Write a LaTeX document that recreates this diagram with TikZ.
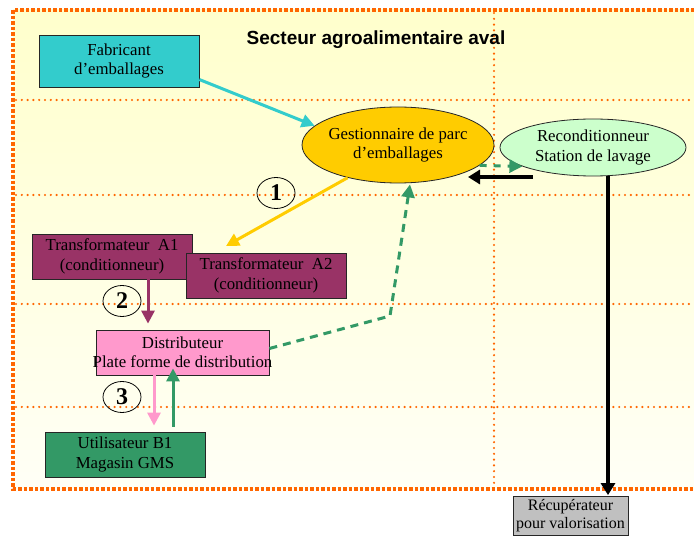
\documentclass[tikz,border=0pt]{standalone}
\usepackage{fontspec}
\setmainfont{Liberation Serif}
\newfontfamily\titlefont{Liberation Sans}
\usetikzlibrary{shapes.geometric,arrows.meta,calc}
\definecolor{frameor}{HTML}{FF6600}
\definecolor{cfab}{HTML}{33CCCC}
\definecolor{cgest}{HTML}{FFCC00}
\definecolor{crecon}{HTML}{CCFFCC}
\definecolor{ctrans}{HTML}{993366}
\definecolor{cdist}{HTML}{FF99CC}
\definecolor{cutil}{HTML}{339966}
\definecolor{crecup}{HTML}{C0C0C0}
\definecolor{bgtop}{HTML}{FFFFCC}
\definecolor{bgbot}{HTML}{FFFFF6}
\begin{document}
\begin{tikzpicture}[x=1pt,y=-1pt,
  font=\fontsize{16.8}{19.5}\selectfont,
  box/.style={draw=black!85, line width=0.8pt, inner sep=0pt, align=center, minimum width=160pt, minimum height=45pt},
  oval/.style={ellipse, draw=black!85, line width=0.8pt, inner sep=0pt, align=center},
  num/.style={ellipse, draw=black, line width=0.8pt, inner sep=0pt, minimum width=38pt, minimum height=31pt, font=\fontsize{24}{24}\selectfont\bfseries},
  grid/.style={frameor, line width=2.4pt, dash pattern=on 0pt off 5.8pt, line cap=round},
  tip/.style={-{Triangle[length=13pt,width=13pt]}},
  carrow/.style={tip, line width=3pt},
  barrow/.style={-{Triangle[length=12pt,width=14pt]}, line width=4.5pt, black},
]
\useasboundingbox (0,0) rectangle (694,537);
% background
\shade[top color=bgtop, bottom color=bgbot] (13,10) rectangle (694,489);
% grid
\foreach \yy in {100,195,304,407} \draw[grid] (16,\yy) -- (694,\yy);
\draw[grid] (494,13) -- (494,486);
% frame
\draw[frameor, line width=3.5pt, dash pattern=on 3.5pt off 2pt] (700,10) -- (13,10) -- (13,489) -- (700,489);

% title
\node (title) at (376,40) {\titlefont\bfseries\fontsize{19}{22}\selectfont Secteur agroalimentaire aval};

% nodes
\node[box, fill=cfab, minimum height=52pt] (fab) at (119,61) {Fabricant\\d’emballages};
\node[oval, fill=cgest, minimum width=192pt, minimum height=76pt] (gest) at (398,145) {\makebox[130pt]{Gestionnaire de parc}\\d’emballages};
\node[oval, fill=crecon, minimum width=186pt, minimum height=57pt] (recon) at (593,147.5) {Reconditionneur\\Station de lavage};
\node[box, fill=ctrans] (a1) at (112,256.5) {Transformateur\ \ A1\\(conditionneur)};
\node[box, fill=ctrans] (a2) at (266,275.5) {Transformateur\ \ A2\\(conditionneur)};
\node[box, fill=cdist, minimum width=173pt] (dist) at (182.5,352.5) {Distributeur\\\makebox[150pt]{Plate forme de distribution}};
\node[box, fill=cutil] (util) at (125,454.5) {Utilisateur B1\\Magasin GMS};
\node[box, fill=crecup, minimum width=115pt, minimum height=39pt, font=\fontsize{16}{18}\selectfont] (recup) at (570.5,516) {Récupérateur\\\makebox[100pt]{pour valorisation}};

% numbers
\node[num] (n1) at (276,193) {1};
\node[num] (n2) at (122,301) {2};
\node[num] (n3) at (122,397) {3};

% free ends
\coordinate (yend) at (226,246);
\coordinate (bkstart) at (533,177);
\coordinate (bkend) at (468,177);
\coordinate (bend) at (390,316);

% connectors
\draw[carrow, cfab] (fab.-13) -- (gest.167);
\draw[carrow, cgest] (gest.213) -- (yend);
\draw[carrow, ctrans] ($(a1.south)+(36,0)$) -- ($(dist.north)+(-34.5,-6)$);
\draw[carrow, cdist] ($(dist.south)+(-28.5,0)$) -- ($(util.north)+(29,-6)$);
\draw[carrow, cutil] ($(util.north)+(48,-5)$) -- ($(dist.south)+(-9.5,-7)$);
\draw[carrow, cutil, dash pattern=on 8pt off 6pt] ($(dist.east)+(0,-4)$) -- (bend) -- ($(gest.south)+(12,1)$);
\draw[carrow, cutil, dash pattern=on 7pt off 7pt] (gest.-14) -- (recon.195);
\draw[barrow] (bkstart) -- (bkend);
\draw[barrow] ($(recon.south)+(15,0)$) -- ($(recup.north)+(37.5,-1)$);
\end{tikzpicture}
\end{document}
